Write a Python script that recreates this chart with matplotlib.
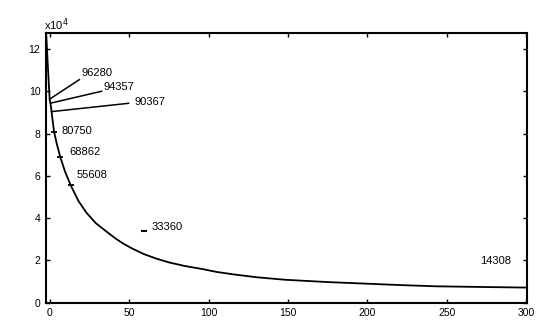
import matplotlib
matplotlib.use("Agg")
import matplotlib.pyplot as plt
from matplotlib.ticker import FuncFormatter

plt.rcParams['font.family'] = ['Liberation Sans', 'DejaVu Sans']

# decay curve (x index, raw value)
curve_x = [-2.3, -1.2, -0.2, 0.3, 1.0, 2.6, 4.5, 6.5, 9.5, 13, 18, 23, 29,
           36, 41, 46, 52, 59, 67, 75, 85, 95, 105, 116, 130, 148, 175,
           201, 220, 243, 270, 300]
curve_y = [126000, 110000, 96280, 94357, 90367, 80750, 74500, 68862, 62000,
           55608, 48000, 42500, 37500, 33360, 30500, 28000, 25500, 23000,
           20800, 19000, 17300, 16000, 14500, 13300, 12000, 10800, 9700,
           8900, 8300, 7700, 7400, 7100]

# labelled points: value, text position (x, y)
lead_vals = [96280, 94357, 90367]
lead_pts_x = [-0.2, 0.3, 1.0]
lead_end_x = [18.5, 32.5, 49.5]
lead_end_y = [105500, 100000, 94300]
lead_txt_x = [20, 34, 53.5]
lead_txt_y = [108700, 102000, 94800]

tick_vals = [80750, 68862, 55608]
tick_pts_x = [2.6, 6.5, 13]
tick_txt_x = [7.3, 12.5, 16.6]
tick_txt_y = [81400, 71400, 60300]

free_labels = ["33360", "14308"]
free_txt_x = [64.3, 271]
free_txt_y = [35800, 19600]
dash_x = [59]
dash_y = [33800]

xticks = [0, 50, 100, 150, 200, 250, 300]
yticks = [0, 20000, 40000, 60000, 80000, 100000, 120000]

fig = plt.figure(figsize=(5.38, 3.25), dpi=100)
ax = fig.add_axes([0.0855, 0.069, 0.894, 0.829])

ax.plot(curve_x, curve_y, color="black", linewidth=1.3)

# leader lines for the top three values
for v, px, ex, ey, tx, ty in zip(lead_vals, lead_pts_x, lead_end_x, lead_end_y,
                                  lead_txt_x, lead_txt_y):
    ax.plot([px, ex], [v, ey], color="black", linewidth=1.1)
    ax.text(tx, ty, str(v), ha="left", va="center", fontsize=8)

# small dash markers on the curve
ax.plot(tick_pts_x, tick_vals, linestyle="none", marker="_", markersize=5,
        markeredgewidth=1.3, color="black")
for v, tx, ty in zip(tick_vals, tick_txt_x, tick_txt_y):
    ax.text(tx, ty, str(v), ha="left", va="center", fontsize=8)

ax.plot(dash_x, dash_y, linestyle="none", marker="_", markersize=4,
        markeredgewidth=1.5, color="black")
for s, tx, ty in zip(free_labels, free_txt_x, free_txt_y):
    ax.text(tx, ty, s, ha="left", va="center", fontsize=8)

ax.set_xlim(-2.5, 300.5)
ax.set_ylim(0, 127500)
ax.set_xticks(xticks)
ax.set_yticks(yticks)
ax.yaxis.set_major_formatter(FuncFormatter(lambda v, p: f"{v / 1e4:g}"))
ax.tick_params(direction="in", top=True, right=True, length=3, width=1,
               labelsize=7.5, pad=4)
for s in ax.spines.values():
    s.set_linewidth(1.5)

ax.text(-0.005, 1.0, r"x10$^4$", transform=ax.transAxes, ha="left",
        va="bottom", fontsize=8)

fig.savefig("out.png", dpi=100)
